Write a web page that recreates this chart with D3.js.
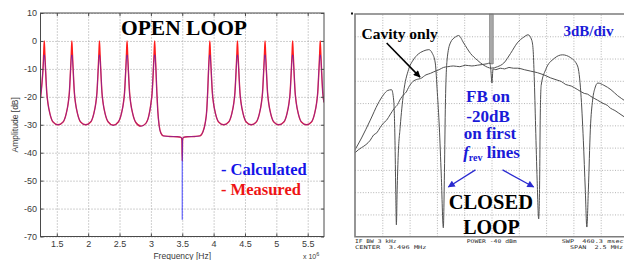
<!DOCTYPE html>
<html>
<head>
<meta charset="utf-8">
<script src="https://cdn.jsdelivr.net/npm/d3@7"></script>
<style>
  body { margin: 0; background: #fff; }
  svg { display: block; }
</style>
</head>
<body>
<div id="wrapper"></div>
<script>
// ---------- open loop (left) : frequency in MHz, amplitude in dB
const openXTicks = [1.5, 2, 2.5, 3, 3.5, 4, 4.5, 5, 5.5]
const openYTicks = [10, 0, -10, -20, -30, -40, -50, -60, -70]

const measured = [
  [1.24,-20.5],[1.26,-16],[1.28,-10],[1.292,-4],[1.30,0],
  [1.308,-4],[1.32,-10],[1.34,-18.5],[1.36,-22.5],[1.39,-26],[1.44,-29],[1.52,-30],[1.60,-29],[1.65,-26],[1.68,-22.5],[1.70,-18.5],[1.72,-10],[1.732,-4],[1.74,0],
  [1.748,-4],[1.76,-10],[1.78,-18.5],[1.80,-22.5],[1.83,-26],[1.88,-29],[1.96,-30],[2.04,-29],[2.09,-26],[2.12,-22.5],[2.14,-18.5],[2.16,-10],[2.172,-4],[2.18,0],
  [2.188,-4],[2.20,-10],[2.22,-18.5],[2.24,-22.5],[2.27,-26],[2.32,-29],[2.40,-30.2],[2.48,-29],[2.53,-26],[2.56,-22.5],[2.58,-18.5],[2.60,-10],[2.612,-4],[2.62,0],
  [2.628,-4],[2.64,-10],[2.66,-18.5],[2.68,-22.5],[2.71,-26],[2.76,-29.2],[2.84,-30.5],[2.92,-29.5],[2.97,-26.5],[3.00,-22.5],[3.02,-18.5],[3.04,-10],[3.052,-4],[3.06,0],
  [3.068,-4],[3.08,-10],[3.095,-18.5],[3.11,-25],[3.13,-30],[3.16,-33],[3.20,-34],[3.30,-34.2],[3.42,-34.3],[3.48,-34.5],[3.495,-35.5],[3.50,-43],[3.505,-35.5],[3.52,-34.5],[3.58,-34.3],[3.70,-34.2],[3.78,-34],[3.83,-32.5],[3.865,-29.5],[3.89,-25],[3.905,-18.5],[3.92,-10],[3.932,-4],[3.94,0],
  [3.948,-4],[3.96,-10],[3.98,-18.5],[4.00,-22.5],[4.03,-26],[4.08,-29],[4.16,-30],[4.24,-29],[4.29,-26],[4.32,-22.5],[4.34,-18.5],[4.36,-10],[4.372,-4],[4.38,0],
  [4.388,-4],[4.40,-10],[4.42,-18.5],[4.44,-22.5],[4.47,-26],[4.52,-29],[4.60,-30],[4.68,-29],[4.73,-26],[4.76,-22.5],[4.78,-18.5],[4.80,-10],[4.812,-4],[4.82,0],
  [4.828,-4],[4.84,-10],[4.86,-18.5],[4.88,-22.5],[4.91,-26],[4.96,-29],[5.04,-30],[5.12,-29],[5.17,-26],[5.20,-22.5],[5.22,-18.5],[5.24,-10],[5.252,-4],[5.26,0],
  [5.268,-4],[5.28,-10],[5.30,-18.5],[5.32,-22.5],[5.35,-26],[5.40,-29],[5.48,-30],[5.56,-29],[5.61,-26],[5.64,-22.5],[5.66,-18.5],[5.68,-10],[5.692,-4],[5.70,0],
  [5.708,-4],[5.72,-10],[5.74,-18.5],[5.76,-22]
]

const calculated = [
  [1.24,-20.5],[1.26,-16],[1.28,-10],[1.30,-5],
  [1.32,-10],[1.34,-18.5],[1.36,-22.5],[1.39,-26],[1.44,-29],[1.52,-30],[1.60,-29],[1.65,-26],[1.68,-22.5],[1.70,-18.5],[1.72,-10],[1.74,-5],
  [1.76,-10],[1.78,-18.5],[1.80,-22.5],[1.83,-26],[1.88,-29],[1.96,-30],[2.04,-29],[2.09,-26],[2.12,-22.5],[2.14,-18.5],[2.16,-10],[2.18,-5],
  [2.20,-10],[2.22,-18.5],[2.24,-22.5],[2.27,-26],[2.32,-29],[2.40,-30.2],[2.48,-29],[2.53,-26],[2.56,-22.5],[2.58,-18.5],[2.60,-10],[2.62,-5],
  [2.64,-10],[2.66,-18.5],[2.68,-22.5],[2.71,-26],[2.76,-29.2],[2.84,-30.5],[2.92,-29.5],[2.97,-26.5],[3.00,-22.5],[3.02,-18.5],[3.04,-10],[3.06,-5],
  [3.08,-10],[3.095,-18.5],[3.11,-25],[3.13,-30],[3.16,-33],[3.20,-34],[3.30,-34.2],[3.42,-34.3],[3.48,-34.5],[3.497,-35],[3.50,-64],[3.503,-35],[3.52,-34.5],[3.58,-34.3],[3.70,-34.2],[3.78,-34],[3.83,-32.5],[3.865,-29.5],[3.89,-25],[3.905,-18.5],[3.92,-10],[3.94,-5],
  [3.96,-10],[3.98,-18.5],[4.00,-22.5],[4.03,-26],[4.08,-29],[4.16,-30],[4.24,-29],[4.29,-26],[4.32,-22.5],[4.34,-18.5],[4.36,-10],[4.38,-5],
  [4.40,-10],[4.42,-18.5],[4.44,-22.5],[4.47,-26],[4.52,-29],[4.60,-30],[4.68,-29],[4.73,-26],[4.76,-22.5],[4.78,-18.5],[4.80,-10],[4.82,-5],
  [4.84,-10],[4.86,-18.5],[4.88,-22.5],[4.91,-26],[4.96,-29],[5.04,-30],[5.12,-29],[5.17,-26],[5.20,-22.5],[5.22,-18.5],[5.24,-10],[5.26,-5],
  [5.28,-10],[5.30,-18.5],[5.32,-22.5],[5.35,-26],[5.40,-29],[5.48,-30],[5.56,-29],[5.61,-26],[5.64,-22.5],[5.66,-18.5],[5.68,-10],[5.70,-5],
  [5.72,-10],[5.74,-18.5],[5.76,-22]
]

// ---------- closed loop (right) : offset from 3.496 MHz, dB relative to top line (3dB/div)
const specFreqGrid = [-1, -0.75, -0.5, -0.25, 0, 0.25, 0.5, 0.75, 1]
const specDbGrid = [-3, -6, -9, -12, -15, -18, -21, -24, -27]

const cavityTrace = [
  [-1.25,-18.7],[-1.22,-18.3],[-1.19,-18.0],[-1.15,-17.6],[-1.11,-17.0],[-1.08,-16.3],[-1.05,-16.0],[-1.02,-15.3],[-0.99,-14.7],
  [-0.96,-14.3],[-0.93,-13.6],[-0.89,-12.7],[-0.86,-12.2],[-0.84,-11.6],[-0.80,-10.8],[-0.78,-10.5],[-0.76,-9.9],[-0.72,-9.1],
  [-0.68,-8.8],[-0.65,-8.7],[-0.60,-8.2],[-0.56,-8.0],[-0.53,-7.8],[-0.48,-7.5],[-0.44,-7.2],[-0.40,-7.1],[-0.35,-7.0],[-0.29,-7.1],
  [-0.24,-6.9],[-0.18,-7.0],[-0.13,-6.9],[-0.08,-6.8],[-0.04,-6.7],[-0.015,-6.6],[-0.006,-7.6],[0.004,-9.3],[0.014,-7.4],[0.04,-7.5],
  [0.08,-7.3],[0.12,-7.4],[0.16,-7.2],[0.20,-7.3],[0.24,-7.3],[0.30,-7.5],[0.36,-7.7],[0.42,-7.9],[0.48,-8.2],[0.54,-8.6],
  [0.60,-8.9],[0.64,-9.1],[0.68,-9.5],[0.73,-9.7],[0.79,-10.2],[0.85,-10.7],[0.88,-10.8],[0.91,-11.1],[0.97,-11.6],[1.03,-12.1],
  [1.06,-12.3],[1.09,-12.7],[1.13,-13.0],[1.16,-13.3],[1.22,-13.9],[1.25,-14.2]
]

const closedTrace = [
  [-1.25,-18.3],[-1.19,-16.7],[-1.11,-14.3],[-1.04,-12.1],[-0.99,-10.9],[-0.95,-10.3],[-0.915,-10.2],
  [-0.896,-11.6],[-0.884,-17.0],[-0.877,-23.7],[-0.871,-28.4],[-0.864,-23.7],[-0.855,-19.3],[-0.836,-15.2],
  [-0.806,-10.7],[-0.76,-7.5],[-0.717,-6.2],[-0.671,-5.4],[-0.625,-5.0],[-0.574,-4.8],[-0.542,-5.3],[-0.515,-6.6],
  [-0.496,-10.6],[-0.478,-15.2],[-0.46,-21.7],[-0.441,-28.8],[-0.432,-22.4],[-0.423,-12.9],[-0.407,-6.2],
  [-0.377,-3.9],[-0.331,-3.1],[-0.301,-2.9],[-0.255,-3.9],[-0.193,-5.3],[-0.131,-6.2],[-0.071,-6.9],[0.0,-7.3],
  [0.055,-7.1],[0.113,-6.6],[0.175,-5.3],[0.236,-3.9],[0.297,-3.1],[0.335,-2.8],[0.368,-3.5],[0.381,-4.8],
  [0.391,-8.4],[0.404,-15.2],[0.418,-22.4],[0.432,-27.6],[0.441,-22.4],[0.446,-14.3],[0.455,-9.6],[0.496,-7.5],
  [0.573,-6.0],[0.65,-5.5],[0.726,-5.9],[0.788,-7.0],[0.818,-10.6],[0.841,-17.0],[0.859,-23.7],[0.873,-28.7],
  [0.887,-23.7],[0.905,-15.6],[0.926,-11.6],[0.947,-10.0],[0.974,-9.3],[1.029,-9.6],[1.094,-10.2],[1.155,-11.0],
  [1.222,-11.7],[1.25,-12.0]
]

// annotation arrows in analyzer units [from, to]
const cavityArrow = [[-0.96,-3.9],[-0.655,-8.5]]
const fbArrows = [
  [[-0.147,-21.0],[-0.395,-23.3]],
  [[0.101,-21.0],[0.386,-23.3]]
]

const analyzerLines = [
  { text: "IF BW 3 kHz", x: 355, y: 242.6, len: 41.5 },
  { text: "CENTER  3.496 MHz", x: 355, y: 248.8, len: 71.5 },
  { text: "POWER -40 dBm", x: 466.7, y: 242.6, len: 50 },
  { text: "SWP  460.3 msec", x: 561.7, y: 242.6, len: 62 },
  { text: "SPAN  2.5 MHz", x: 570, y: 248.8, len: 53 }
]

const serif = "'Times New Roman', 'Liberation Serif', serif"
const sans = "Arial, 'Liberation Sans', sans-serif"

const svg = d3.select("#wrapper")
  .append("svg")
    .attr("width", 624)
    .attr("height", 260)

const defs = svg.append("defs")

// ===================== left panel =====================
const open = { left: 40.5, right: 324, top: 13, bottom: 236.5 }

const xOpen = d3.scaleLinear()
  .domain([1.24, 5.76])
  .range([open.left, open.right])
const yOpen = d3.scaleLinear()
  .domain([-70, 10])
  .range([open.bottom, open.top])

const gOpen = svg.append("g")

// dotted grid
gOpen.append("g")
  .attr("transform", `translate(0,${open.bottom})`)
  .call(d3.axisBottom(xOpen).tickValues(openXTicks).tickSize(-(open.bottom - open.top)).tickFormat(""))
  .call(g => g.select(".domain").remove())
  .call(g => g.selectAll("line").attr("stroke", "#a0a0a0").attr("stroke-dasharray", "1,2"))
gOpen.append("g")
  .attr("transform", `translate(${open.left},0)`)
  .call(d3.axisLeft(yOpen).tickValues(openYTicks).tickSize(-(open.right - open.left)).tickFormat(""))
  .call(g => g.select(".domain").remove())
  .call(g => g.selectAll("line").attr("stroke", "#a0a0a0").attr("stroke-dasharray", "1,2"))

defs.append("clipPath").attr("id", "clipOpen")
  .append("rect")
    .attr("x", open.left).attr("y", open.top)
    .attr("width", open.right - open.left).attr("height", open.bottom - open.top)

const openLine = d3.line()
  .x(d => xOpen(d[0]))
  .y(d => yOpen(d[1]))
  .curve(d3.curveMonotoneX)

gOpen.append("path")
  .attr("clip-path", "url(#clipOpen)")
  .attr("d", openLine(measured))
  .attr("fill", "none")
  .attr("stroke", "#ff1c1c")
  .attr("stroke-width", 1.4)

gOpen.append("path")
  .attr("clip-path", "url(#clipOpen)")
  .attr("d", openLine(calculated))
  .attr("fill", "none")
  .attr("stroke", "#2828ff")
  .attr("stroke-width", 1)
  .attr("stroke-opacity", 0.5)

// box + ticks (matlab style, ticks inside)
gOpen.append("rect")
  .attr("x", open.left).attr("y", open.top)
  .attr("width", open.right - open.left).attr("height", open.bottom - open.top)
  .attr("fill", "none")
  .attr("stroke", "#4a4a4a")
  .attr("stroke-width", 1)

const styleAxis = g => {
  g.select(".domain").remove()
  g.selectAll("line").attr("stroke", "#4a4a4a")
  g.selectAll("text")
    .attr("fill", "#3a3a3a")
    .style("font-family", sans)
    .style("font-size", "9px")
}

gOpen.append("g")
  .attr("transform", `translate(0,${open.bottom})`)
  .call(d3.axisBottom(xOpen).tickValues(openXTicks).tickSize(-3).tickPadding(4).tickFormat(d => String(d)))
  .call(styleAxis)
gOpen.append("g")
  .attr("transform", `translate(${open.left},0)`)
  .call(d3.axisLeft(yOpen).tickValues(openYTicks).tickSize(-3).tickPadding(3.5).tickFormat(d => String(d)))
  .call(styleAxis)
gOpen.append("g")
  .attr("transform", `translate(0,${open.top})`)
  .call(d3.axisTop(xOpen).tickValues(openXTicks).tickSize(-3).tickFormat(""))
  .call(styleAxis)
gOpen.append("g")
  .attr("transform", `translate(${open.right},0)`)
  .call(d3.axisRight(yOpen).tickValues(openYTicks).tickSize(-3).tickFormat(""))
  .call(styleAxis)

gOpen.append("text")
  .attr("transform", `translate(18,${(open.top + open.bottom) / 2}) rotate(-90)`)
  .attr("text-anchor", "middle")
  .attr("fill", "#3a3a3a")
  .style("font-family", sans)
  .style("font-size", "8.5px")
  .text("Amplitude [dB]")

gOpen.append("text")
  .attr("x", (open.left + open.right) / 2)
  .attr("y", 258.5)
  .attr("text-anchor", "middle")
  .attr("fill", "#3a3a3a")
  .style("font-family", sans)
  .style("font-size", "8.5px")
  .text("Frequency [Hz]")

const expo = gOpen.append("text")
  .attr("x", 303)
  .attr("y", 259)
  .attr("fill", "#3a3a3a")
  .style("font-family", sans)
  .style("font-size", "7px")
expo.append("tspan").text("x 10")
expo.append("tspan").attr("dy", -3).style("font-size", "5.5px").text("6")

gOpen.append("text")
  .attr("x", 184).attr("y", 35)
  .attr("text-anchor", "middle")
  .style("font-family", serif).style("font-weight", "bold").style("font-size", "21.5px")
  .attr("fill", "#000")
  .text("OPEN LOOP")

gOpen.append("text")
  .attr("x", 221).attr("y", 175)
  .style("font-family", serif).style("font-weight", "bold").style("font-size", "16.5px")
  .attr("fill", "#1414e8")
  .text("- Calculated")

gOpen.append("text")
  .attr("x", 221).attr("y", 195)
  .style("font-family", serif).style("font-weight", "bold").style("font-size", "16.5px")
  .attr("fill", "#ee1414")
  .text("- Measured")

// ===================== right panel =====================
const spec = { left: 355, right: 628, top: 14, bottom: 236.7 }

const xSpec = d3.scaleLinear()
  .domain([-1.25, 1.25])
  .range([spec.left, spec.right])
const ySpec = d3.scaleLinear()
  .domain([-30, 0])
  .range([spec.bottom, spec.top])

const gSpec = svg.append("g")

gSpec.append("g")
  .attr("transform", `translate(0,${spec.bottom})`)
  .call(d3.axisBottom(xSpec).tickValues(specFreqGrid).tickSize(-(spec.bottom - spec.top)).tickFormat(""))
  .call(g => g.select(".domain").remove())
  .call(g => g.selectAll("line").attr("stroke", "#b4b4b4").attr("stroke-dasharray", "1,1.6"))
gSpec.append("g")
  .attr("transform", `translate(${spec.left},0)`)
  .call(d3.axisLeft(ySpec).tickValues(specDbGrid).tickSize(-(spec.right - spec.left)).tickFormat(""))
  .call(g => g.select(".domain").remove())
  .call(g => g.selectAll("line").attr("stroke", "#b4b4b4").attr("stroke-dasharray", "1,1.6"))

// center marker bar
gSpec.append("rect")
  .attr("x", xSpec(0) - 1.9)
  .attr("y", spec.top)
  .attr("width", 3.6)
  .attr("height", ySpec(-6.7) - spec.top)
  .attr("fill", "#a8a8a8")
  .attr("stroke", "#707070")
  .attr("stroke-width", 0.6)

defs.append("clipPath").attr("id", "clipSpec")
  .append("rect")
    .attr("x", spec.left).attr("y", spec.top)
    .attr("width", spec.right - spec.left).attr("height", spec.bottom - spec.top)

const specLine = d3.line()
  .x(d => xSpec(d[0]))
  .y(d => ySpec(d[1]))
  .curve(d3.curveMonotoneX)

gSpec.append("path")
  .attr("clip-path", "url(#clipSpec)")
  .attr("d", specLine(cavityTrace))
  .attr("fill", "none")
  .attr("stroke", "#505050")
  .attr("stroke-width", 1)

gSpec.append("path")
  .attr("clip-path", "url(#clipSpec)")
  .attr("d", specLine(closedTrace))
  .attr("fill", "none")
  .attr("stroke", "#505050")
  .attr("stroke-width", 1)

// frame
gSpec.append("path")
  .attr("d", `M${spec.right},${spec.top}H${spec.left}V${spec.bottom}H${spec.right}`)
  .attr("fill", "none")
  .attr("stroke", "#7c7c7c")
  .attr("stroke-width", 1.6)
gSpec.append("rect")
  .attr("x", 351).attr("y", 12.5).attr("width", 2).attr("height", 2)
  .attr("fill", "#111")

analyzerLines.forEach(l => {
  gSpec.append("text")
    .attr("x", l.x).attr("y", l.y)
    .attr("textLength", l.len)
    .attr("lengthAdjust", "spacingAndGlyphs")
    .attr("fill", "#2a2a2a")
    .style("font-family", "'DejaVu Sans Mono', 'Liberation Mono', monospace")
    .style("font-size", "5.2px")
    .style("white-space", "pre")
    .text(l.text)
})

// arrows
const markerFor = (id, color) => {
  defs.append("marker")
    .attr("id", id)
    .attr("viewBox", "0 0 10 10")
    .attr("refX", 9).attr("refY", 5)
    .attr("markerUnits", "userSpaceOnUse")
    .attr("markerWidth", 8).attr("markerHeight", 7)
    .attr("orient", "auto")
    .append("path")
      .attr("d", "M0,0L10,5L0,10z")
      .attr("fill", color)
}
markerFor("headBlack", "#000")
markerFor("headBlue", "#2a2ad0")

gSpec.append("line")
  .attr("x1", xSpec(cavityArrow[0][0])).attr("y1", ySpec(cavityArrow[0][1]))
  .attr("x2", xSpec(cavityArrow[1][0])).attr("y2", ySpec(cavityArrow[1][1]))
  .attr("stroke", "#000")
  .attr("stroke-width", 1.6)
  .attr("marker-end", "url(#headBlack)")

gSpec.selectAll(".fbArrow")
  .data(fbArrows)
  .join("line")
    .attr("class", "fbArrow")
    .attr("x1", d => xSpec(d[0][0])).attr("y1", d => ySpec(d[0][1]))
    .attr("x2", d => xSpec(d[1][0])).attr("y2", d => ySpec(d[1][1]))
    .attr("stroke", "#2a2ad0")
    .attr("stroke-width", 1.3)
    .attr("marker-end", "url(#headBlue)")

const label = (x, y, size, color, txt, anchor) => gSpec.append("text")
  .attr("x", x).attr("y", y)
  .attr("text-anchor", anchor || "start")
  .attr("fill", color)
  .style("font-family", serif)
  .style("font-weight", "bold")
  .style("font-size", size + "px")
  .text(txt)

label(361.5, 38.5, 15.5, "#000", "Cavity only")
label(563.5, 36, 15, "#1a1ad8", "3dB/div")
label(488, 101.5, 17, "#1a1ad8", "FB on", "middle")
label(488, 121.5, 17, "#1a1ad8", "-20dB", "middle")
label(490, 138.8, 17, "#1a1ad8", "on first", "middle")

const frev = gSpec.append("text")
  .attr("x", 491.5).attr("y", 158)
  .attr("text-anchor", "middle")
  .attr("fill", "#1a1ad8")
  .style("font-family", serif)
  .style("font-weight", "bold")
  .style("font-size", "17px")
frev.append("tspan").style("font-style", "italic").text("f")
frev.append("tspan").attr("dy", 2.5).style("font-size", "10px").text("rev")
frev.append("tspan").attr("dy", -2.5).text(" lines")

label(490.8, 208.5, 20.5, "#000", "CLOSED", "middle")
label(491.5, 233.5, 20, "#000", "LOOP", "middle")
</script>
</body>
</html>
